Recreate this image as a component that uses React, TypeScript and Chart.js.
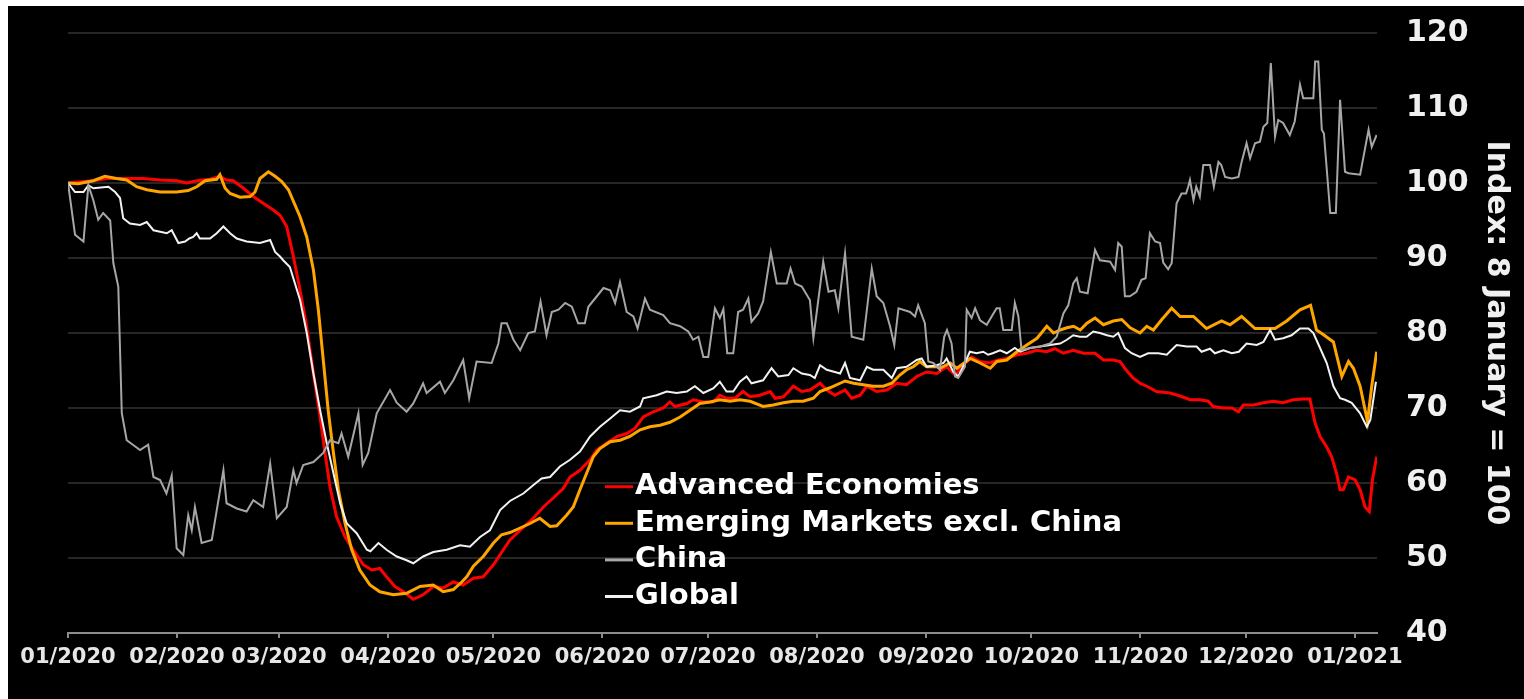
import { useEffect, useRef } from 'react';
import { Chart, registerables } from 'chart.js';

Chart.register(...registerables);

// Day index (0 = 1 Jan 2020) of each month start and its label
const monthTicks = [0, 31, 60, 91, 121, 152, 182, 213, 244, 274, 305, 335, 366];
const monthLabels = ['01/2020', '02/2020', '03/2020', '04/2020', '05/2020', '06/2020', '07/2020', '08/2020', '09/2020', '10/2020', '11/2020', '12/2020', '01/2021'];

const seriesNames = ['Advanced Economies', 'Emerging Markets excl. China', 'China', 'Global'];

// [day, index value]
const advancedSeries: [number, number][] = [
  [0, 100], [7.2, 100.3], [11, 100.6], [16.7, 100.6], [21.4, 100.6], [26.2, 100.4], [30.9, 100.3], [33.8, 100], [36.6, 100.3],
  [40.4, 100.5], [43.2, 100.9], [45.1, 100.4], [47, 100.3], [49.9, 99.3], [52.7, 98.2], [55.5, 97.3], [58.4, 96.4], [60.3, 95.7],
  [62.2, 94.2], [64.1, 90.2], [66, 85.7], [67.9, 80.8], [69.8, 74.6], [71.7, 68.8], [73.1, 64], [74.5, 59.5], [76.4, 55.5],
  [78.8, 52.8], [81.1, 51.1], [84, 49.1], [86.4, 48.4], [88.7, 48.6], [90.6, 47.5], [93, 46.2], [95.4, 45.5], [98.2, 44.5],
  [101, 45.1], [103.9, 46.2], [106.7, 46], [109.6, 46.8], [112.4, 46.4], [115.3, 47.3], [118.1, 47.5], [121, 49.1], [123.8, 51.1],
  [125.7, 52.4], [128.6, 53.7], [132.3, 55.3], [135.2, 56.8], [138, 58], [140.9, 59.3], [142.8, 60.8], [145.6, 61.7], [148.5, 63.1],
  [150.4, 64.4], [153.2, 65.3], [156.1, 66.2], [158.9, 66.6], [161.3, 67.3], [163.6, 68.8], [166.5, 69.5], [169.3, 70], [171.2, 70.8],
  [172.6, 70.2], [176, 70.6], [177.8, 71.1], [180.7, 70.8], [183.5, 70.8], [185.4, 71.7], [187.3, 71.3], [189.7, 71.3], [192, 72.2],
  [194, 71.5], [196.8, 71.7], [199.7, 72.2], [201.1, 71.3], [203.5, 71.5], [206.3, 72.9], [208.7, 72.2], [211, 72.4], [213.9, 73.3],
  [215.8, 72.4], [218.1, 71.7], [221, 72.4], [222.9, 71.3], [225.3, 71.7], [227.2, 72.9], [230, 72.2], [232.9, 72.4], [235.7, 73.3],
  [238.5, 73.1], [241.4, 74.2], [244.2, 74.8], [247.1, 74.6], [249.9, 75.5], [252.3, 74.4], [254.6, 75.7], [257, 76.8], [259.4, 76.2],
  [262.2, 76], [264.6, 76.4], [267, 76.6], [269.8, 77.1], [272.6, 77.3], [275.5, 77.7], [278.3, 77.5], [280.7, 77.9], [283.1, 77.3],
  [285.9, 77.7], [288.8, 77.3], [292.1, 77.3], [294.5, 76.4], [297.3, 76.4], [299.2, 76.2], [300.9, 75.1], [302.9, 74], [304.9, 73.3],
  [306.8, 72.9], [309.6, 72.2], [313.4, 72], [316.3, 71.6], [319.1, 71.1], [322, 71.1], [324.3, 70.9], [325.7, 70.2], [328.6, 70],
  [331, 70], [332.9, 69.5], [334.3, 70.4], [337.2, 70.4], [340, 70.7], [342.8, 70.9], [345.6, 70.7], [348.5, 71.1], [351.3, 71.2],
  [353.2, 71.2], [354.7, 68], [356.1, 66.2], [358, 64.8], [359.4, 63.5], [360.8, 61.3], [361.8, 59.1], [362.7, 59.1], [364.2, 60.8],
  [366.1, 60.4], [367.5, 59.1], [368.9, 56.8], [370.1, 56.2], [371, 60.4], [372.2, 63.5],
];

const emergingSeries: [number, number][] = [
  [0, 100], [2.9, 99.9], [7.2, 100.3], [10.5, 100.9], [13.8, 100.6], [16.7, 100.4], [19.5, 99.5], [22.4, 99.1], [26.2, 98.8],
  [30.9, 98.8], [34.2, 99], [36.6, 99.5], [39, 100.3], [42.3, 100.5], [43.2, 101.1], [44.7, 99.3], [46.1, 98.6], [48.9, 98.1],
  [51.8, 98.2], [53.2, 98.8], [54.6, 100.6], [57, 101.5], [58.9, 100.9], [60.8, 100.2], [62.7, 99.1], [66, 95.5], [67.9, 92.8],
  [69.8, 88.4], [71.2, 83.1], [72.6, 76.4], [74, 69.7], [75.5, 64], [76.9, 59.1], [78.8, 54.6], [80.7, 51.1], [83, 48.4],
  [85.9, 46.4], [88.7, 45.5], [92.5, 45.1], [96.3, 45.3], [100.1, 46.2], [103.9, 46.4], [106.7, 45.5], [109.6, 45.8], [112, 46.8],
  [113.4, 47.5], [115.3, 48.9], [118.1, 50.2], [121, 52], [123.3, 53.1], [125.7, 53.4], [128.6, 54], [131.4, 54.6], [134.2, 55.3],
  [137.1, 54.2], [139, 54.3], [141.8, 55.7], [143.7, 56.8], [145.6, 59.1], [147.5, 61.3], [149.4, 63.5], [151.3, 64.6], [154.2, 65.5],
  [157, 65.7], [159.8, 66.2], [162.7, 67.1], [165.5, 67.5], [168.4, 67.7], [171.2, 68.1], [174.1, 68.8], [176.9, 69.7], [179.7, 70.6],
  [182.6, 70.8], [185.4, 71.1], [188.3, 70.9], [191.1, 71.1], [194, 70.9], [197.7, 70.2], [200.6, 70.4], [203.5, 70.7], [206.3, 70.9],
  [209.1, 70.9], [212, 71.3], [213.9, 72.2], [216.7, 72.7], [219.6, 73.3], [221, 73.6], [223.4, 73.3], [226.2, 73.1], [229, 72.9],
  [231.9, 72.9], [234.3, 73.3], [236.6, 74.4], [238.5, 75.1], [240.4, 75.5], [242.3, 76.2], [244.2, 75.5], [247.1, 75.5], [248, 75.3],
  [250.9, 76], [252.8, 75.3], [256.6, 76.6], [259.4, 76], [262.3, 75.3], [264.2, 76.2], [267, 76.4], [269.9, 77.5], [272.7, 78.4],
  [275.6, 79.3], [278.4, 80.9], [280.3, 80], [282.2, 80.4], [284.1, 80.7], [286, 80.9], [287.9, 80.4], [289.8, 81.3], [292.1, 82],
  [294.5, 81.1], [297.3, 81.6], [299.7, 81.8], [302.1, 80.7], [304.9, 80], [306.8, 80.9], [308.7, 80.4], [311.1, 81.8], [313.9, 83.3],
  [316.3, 82.2], [320.1, 82.2], [323.8, 80.6], [328.1, 81.6], [330.5, 81.1], [333.8, 82.2], [337.6, 80.6], [343.3, 80.6], [346.6, 81.6],
  [350.4, 83.1], [353.4, 83.7], [355.1, 80.4], [357, 79.8], [359.9, 78.8], [362.3, 74.2], [364.2, 76.2], [365.6, 75.3], [367.5, 72.9],
  [369.6, 68.2], [370.8, 72.9], [372.2, 77.5],
];

const chinaSeries: [number, number][] = [
  [0, 100], [2, 93.1], [4.4, 92.2], [5.8, 99.7], [7.2, 97.7], [8.6, 95.1], [10, 96], [12, 95], [12.9, 89.3], [14.3, 86.2],
  [15.3, 69.3], [16.7, 65.7], [20.5, 64.4], [22.8, 65.1], [24.3, 60.8], [26.2, 60.4], [28, 58.6], [29.5, 61], [30.9, 51.3],
  [32.8, 50.4], [34.2, 55.7], [35.2, 53.7], [36.1, 56.8], [38, 52], [40.9, 52.4], [44.2, 61.7], [45.1, 57.3], [48, 56.6],
  [50.8, 56.2], [52.7, 57.7], [55.5, 56.8], [57.5, 62.6], [59.4, 55.3], [62.2, 56.8], [64.1, 61.7], [65, 60], [66.9, 62.4],
  [69.8, 62.8], [72.6, 64], [74.5, 65.7], [76.9, 65.3], [77.8, 66.6], [79.7, 63.5], [82.6, 69.3], [83.8, 62.4], [85.4, 64],
  [87.8, 69.3], [91.6, 72.4], [93.5, 70.7], [96.3, 69.5], [98.2, 70.6], [101, 73.3], [102, 72], [105.8, 73.5], [107.2, 72],
  [109.6, 73.7], [112.4, 76.4], [114.1, 71.3], [116.2, 76.2], [120.5, 76], [122.4, 78.6], [123.3, 81.3], [124.8, 81.3], [126.7, 79.1],
  [128.6, 77.7], [130.9, 80], [132.8, 80.2], [134.4, 84.2], [136.1, 79.7], [137.6, 82.8], [139.5, 83.1], [141.4, 84], [143.3, 83.5],
  [145.1, 81.3], [147, 81.3], [148, 83.5], [149.9, 84.6], [152.3, 86], [154.2, 85.7], [155.6, 84], [157, 86.8], [158.9, 82.8],
  [160.8, 82.2], [162, 80.6], [164.1, 84.6], [165.5, 83.1], [169.3, 82.4], [171.2, 81.3], [174.1, 80.9], [176.4, 80.2], [177.8, 79.1],
  [179.3, 79.5], [180.7, 76.8], [182.1, 76.8], [184, 83.3], [185.4, 82], [186.4, 83.2], [187.5, 77.3], [189.2, 77.3], [190.6, 82.8],
  [192, 83.1], [193.5, 84.6], [194.4, 81.5], [196.3, 82.6], [197.7, 84.2], [199.9, 90.8], [201.6, 86.6], [204.4, 86.6], [205.5, 88.6],
  [206.8, 86.6], [208.7, 86.2], [211, 84.4], [212, 79.3], [214.8, 89.5], [216.3, 85.5], [218.1, 85.7], [219.1, 83.3], [221, 90.6],
  [222.9, 79.5], [226.2, 79.1], [228.6, 88.6], [230, 84.9], [231.9, 84], [233.8, 80.9], [235, 78.4], [236.2, 83.3], [239.5, 82.8],
  [240.9, 82.2], [241.8, 83.7], [243.7, 81.3], [244.7, 76.2], [246.1, 76], [248, 75.1], [249.2, 79.5], [250, 80.4], [251.3, 78.6],
  [252.3, 74.2], [253.2, 74], [255.1, 75.5], [255.6, 83.1], [257, 82], [258, 83.3], [259.4, 81.7], [261.3, 81.1], [264.1, 83.3],
  [265, 83.3], [266, 80.4], [268.4, 80.4], [269.3, 84], [270.3, 82.2], [271.2, 77.7], [273.6, 78], [276.5, 78.2], [279.3, 78.6],
  [281.2, 79.5], [283.1, 82.6], [284.5, 83.7], [285.9, 86.6], [286.9, 87.3], [287.8, 85.5], [290, 85.3], [292.1, 91.1], [293.5, 89.7],
  [296.4, 89.5], [297.8, 88.4], [298.7, 92], [299.7, 91.5], [300.6, 84.9], [302, 84.9], [303.9, 85.5], [305.3, 87.1], [306.5, 87.3],
  [307.7, 93.3], [309.2, 92.2], [310.6, 92], [311.5, 89.4], [312.9, 88.5], [313.9, 89.3], [315.3, 97.3], [316.7, 98.6], [318, 98.6],
  [318.6, 99.5], [319.1, 100.4], [320.1, 97.7], [320.9, 99.5], [321.9, 98.2], [322.9, 102.4], [324.8, 102.4], [325.9, 99.5], [327.2, 102.8],
  [328, 102.4], [329.1, 100.8], [331, 100.6], [332.9, 100.8], [333.8, 102.8], [335.2, 105.3], [336.2, 103.3], [337.6, 105.3], [339, 105.5],
  [340, 107.5], [341.1, 108], [342.1, 116], [343.3, 106.2], [344.2, 108.4], [345.6, 108], [347.5, 106.4], [348.9, 108.2], [350.4, 113.1],
  [351.3, 111.3], [354.2, 111.3], [354.7, 116.2], [355.6, 116.2], [356.6, 107.1], [357.2, 106.6], [359, 96], [360.6, 96], [361.8, 111.1],
  [363.2, 101.5], [364.2, 101.3], [367.5, 101.1], [369.9, 107.1], [370.8, 104.8], [372.2, 106.4],
];

const globalSeries: [number, number][] = [
  [0, 100], [2, 98.8], [4.4, 98.8], [5.8, 99.7], [7.2, 99.3], [11.5, 99.5], [13.4, 98.8], [14.8, 98], [15.7, 95.3], [17.6, 94.6],
  [20.5, 94.4], [22.4, 94.8], [24.3, 93.7], [26.2, 93.5], [28.1, 93.3], [29.5, 93.7], [31.4, 92], [33.3, 92.2], [34.5, 92.6],
  [35.6, 92.8], [36.6, 93.3], [37.5, 92.6], [40.4, 92.6], [42.3, 93.3], [44.2, 94.2], [46.1, 93.3], [48, 92.6], [50.8, 92.2],
  [54.6, 92], [57.5, 92.4], [58.9, 90.8], [60.3, 90.2], [61.2, 89.7], [63.1, 88.8], [66, 84.4], [67.9, 80], [69.8, 74.6],
  [71.7, 69.7], [73.6, 65.3], [75.5, 61.3], [77.4, 57.3], [79.3, 54.6], [82.1, 53.3], [85, 51.1], [86, 50.9], [88.3, 52],
  [90.6, 51.1], [93.5, 50.2], [96.3, 49.7], [98.2, 49.3], [101, 50.2], [103.9, 50.8], [107.7, 51.1], [111.5, 51.7], [114.3, 51.5],
  [117.2, 52.8], [120, 53.7], [122.9, 56.4], [125.7, 57.6], [129.5, 58.6], [132.3, 59.7], [134.7, 60.6], [137.1, 60.8], [139.9, 62.2],
  [142.8, 63.1], [145.6, 64.2], [148.5, 66.2], [151.3, 67.5], [154.2, 68.6], [157, 69.7], [159.8, 69.5], [162.7, 70.2], [163.6, 71.3],
  [167.4, 71.7], [170.3, 72.2], [173.1, 72], [176, 72.2], [178.3, 72.9], [180.7, 72], [183.5, 72.6], [185.4, 73.5], [187.3, 72.2],
  [189.2, 72.2], [191.1, 73.5], [193, 74.2], [194.4, 73.3], [197.7, 73.7], [200.1, 75.3], [202, 74.2], [204.9, 74.4], [206.3, 75.3],
  [208.7, 74.6], [211, 74.4], [212.4, 74], [213.9, 75.7], [215.8, 75.1], [218.1, 74.8], [219.6, 74.6], [221, 76], [222.4, 74],
  [225.3, 73.7], [227.2, 75.5], [229, 75.1], [231.9, 75.1], [234.3, 74], [235.7, 75.3], [238.5, 75.5], [241.4, 76.4], [242.8, 76.6],
  [244.2, 75.5], [247.1, 75.7], [249, 76], [249.9, 76.6], [251.8, 74.8], [253.2, 74.2], [255.1, 76], [256.5, 77.5], [258.4, 77.3],
  [260.3, 77.5], [261.7, 77.1], [263, 77.3], [265.1, 77.7], [267, 77.3], [269.3, 78], [270.8, 77.5], [273.6, 78], [276.5, 78.2],
  [279.3, 78.4], [282.2, 78.6], [284.1, 79.1], [285.9, 79.7], [287.8, 79.5], [289.7, 79.5], [291.6, 80.2], [293.5, 80], [295.5, 79.7],
  [297.3, 79.5], [298.7, 80], [300.6, 78], [302.5, 77.3], [304.9, 76.8], [307.2, 77.3], [310.1, 77.3], [312.5, 77.1], [315.3, 78.4],
  [318.2, 78.2], [321, 78.2], [322.4, 77.5], [324.8, 77.9], [326.2, 77.3], [328.6, 77.7], [331, 77.3], [333, 77.5], [335.2, 78.6],
  [338.1, 78.4], [340, 78.8], [341.9, 80.4], [343.3, 79.1], [345.6, 79.3], [348, 79.7], [350.4, 80.6], [352.8, 80.6], [354.2, 80],
  [356.1, 78], [358, 76], [359.9, 72.9], [361.8, 71.3], [363.2, 71.1], [365.1, 70.7], [367.5, 69.3], [369.4, 67.5], [370.4, 68.4],
  [372, 73.5],
];

const FONT = '"DejaVu Sans", Verdana, sans-serif';
const COLORS = ['#ff0000', '#ffa500', '#a6a6a6', '#f2f2f2'];

const toPoints = (s: [number, number][]) => s.map(([x, y]) => ({ x, y }));

const legendPlugin = {
  id: 'insideLegend',
  afterDatasetsDraw(chart: any) {
    const ctx = chart.ctx as CanvasRenderingContext2D;
    ctx.save();
    ctx.font = `bold 29px ${FONT}`;
    ctx.textBaseline = 'middle';
    ctx.textAlign = 'left';
    seriesNames.forEach((name, i) => {
      const y = 480.7 + i * 36.6;
      ctx.strokeStyle = COLORS[i];
      ctx.lineWidth = 3;
      ctx.beginPath();
      ctx.moveTo(597, y);
      ctx.lineTo(625, y);
      ctx.stroke();
      ctx.fillStyle = '#ffffff';
      ctx.fillText(name, 627, y);
    });
    ctx.restore();
  },
};

export default function App() {
  const canvasRef = useRef<HTMLCanvasElement | null>(null);

  useEffect(() => {
    const canvas = canvasRef.current;
    if (!canvas) return;
    const chart = new Chart(canvas, {
      type: 'line',
      data: {
        datasets: [
          { label: seriesNames[2], data: toPoints(chinaSeries), borderColor: COLORS[2], borderWidth: 2 },
          { label: seriesNames[3], data: toPoints(globalSeries), borderColor: COLORS[3], borderWidth: 2 },
          { label: seriesNames[1], data: toPoints(emergingSeries), borderColor: COLORS[1], borderWidth: 3 },
          { label: seriesNames[0], data: toPoints(advancedSeries), borderColor: COLORS[0], borderWidth: 3 },
        ].map((d) => ({ ...d, pointRadius: 0, tension: 0, fill: false })),
      },
      options: {
        responsive: false,
        animation: false,
        events: [],
        layout: { padding: { left: 60, top: 27, right: 0, bottom: 0 } },
        plugins: { legend: { display: false }, tooltip: { enabled: false } },
        scales: {
          x: {
            type: 'linear',
            min: 0,
            max: 372.3,
            afterBuildTicks: (axis: any) => {
              axis.ticks = monthTicks.map((v) => ({ value: v }));
            },
            afterFit: (axis: any) => {
              axis.height = 66;
            },
            grid: { drawOnChartArea: false, drawTicks: true, tickLength: 5, color: '#8c8c8c', lineWidth: 2 },
            border: { display: true, color: '#8c8c8c', width: 2 },
            ticks: {
              autoSkip: false,
              maxRotation: 0,
              padding: 7,
              color: '#e6e6e6',
              font: { family: FONT, size: 21, weight: 'bold' },
              callback: (value: any) => {
                const i = monthTicks.indexOf(Number(value));
                return i >= 0 ? monthLabels[i] : '';
              },
            },
          },
          y: {
            position: 'right',
            min: 40,
            max: 120,
            afterFit: (axis: any) => {
              axis.width = 147;
            },
            grid: { color: '#262626', lineWidth: 2, drawTicks: true, tickLength: 26, tickColor: 'rgba(0,0,0,0)' },
            border: { display: false },
            ticks: {
              stepSize: 10,
              padding: 3,
              color: '#f0f0f0',
              font: { family: FONT, size: 30, weight: 'bold' },
            },
            title: {
              display: true,
              text: 'Index: 8 January = 100',
              color: '#f0f0f0',
              font: { family: FONT, size: 30, weight: 'bold' },
              padding: { top: 10, bottom: 0 },
            },
          },
        },
      },
      plugins: [legendPlugin],
    } as any);
    return () => chart.destroy();
  }, []);

  return (
    <div style={{ position: 'fixed', left: 8, top: 6, width: 1516, height: 693, background: '#000' }}>
      <canvas ref={canvasRef} width={1516} height={693} style={{ display: 'block' }} />
    </div>
  );
}
